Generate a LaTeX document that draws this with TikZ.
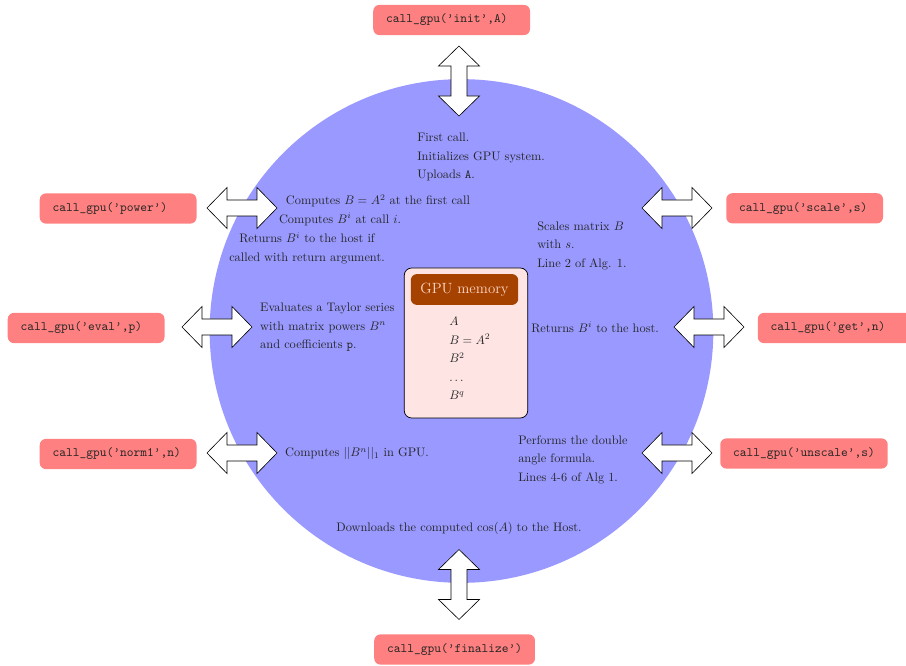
\documentclass[tikz,border=0pt]{standalone}
\definecolor{circblue}{RGB}{153,153,255}
\definecolor{callred}{RGB}{255,128,128}
\definecolor{memfill}{RGB}{255,228,228}
\definecolor{memtitle}{RGB}{165,66,0}
\definecolor{memtext}{RGB}{255,215,200}
\tikzset{
  callbox/.style={rounded corners=5pt, fill=callred, font=\fontsize{10.4}{12}\selectfont\ttfamily, inner xsep=10.5pt, minimum height=24.5pt, anchor=west, text=black!85},
  callboxw/.style={callbox, text width=106pt, align=left},
  txt/.style={inner sep=0pt, align=left, text=black!85},
  dblarrow/.pic={
    \draw[black, fill=white, line width=0.5pt]
      (-35,0) -- (-15,-20.5) -- (-15,-8) -- (15,-8) -- (15,-20.5) -- (35,0)
      -- (15,20.5) -- (15,8) -- (-15,8) -- (-15,20.5) -- cycle;
  },
}
\begin{document}
\begin{tikzpicture}[x=0.81pt,y=-0.81pt]
\useasboundingbox (0,0) rectangle (906,666);
\fill[circblue] (461.5,331) circle[radius=204pt];

% call boxes
\node[callboxw] (init) at (373,20) {call\_gpu(’init’,A)};
\node[callboxw] (power) at (39.5,208.5) {call\_gpu(’power’)};
\node[callboxw] (eval) at (7.5,328) {call\_gpu(’eval’,p)};
\node[callboxw] (norm) at (39.5,454) {call\_gpu(’norm1’,n)};
\node[callboxw] (scale) at (726,208.3) {call\_gpu(’scale’,s)};
\node[callboxw] (get) at (757.5,328) {call\_gpu(’get’,n)};
\node[callbox] (unscale) at (720,453.5) {call\_gpu(’unscale’,s)};
\node[callbox] (final) at (374,649.5) {call\_gpu(’finalize’)};

% double arrows
\pic[rotate=90] at (459,81) {dblarrow};
\pic[rotate=90] at (459,584.5) {dblarrow};
\pic at (242,208) {dblarrow};
\pic at (217,327) {dblarrow};
\pic at (242,453) {dblarrow};
\pic at (677,208) {dblarrow};
\pic at (709,327) {dblarrow};
\pic at (677,453) {dblarrow};

% texts
\node[txt, anchor=west] (tinit) at (417,157) {First call.\\[3pt]Initializes GPU system.\\[3pt]Uploads \texttt{A}.};
\node[txt] (tpow1) at (378,201) {Computes $B=A^2$ at the first call};
\node[txt] (tpow2) at (340,219.5) {Computes $B^i$ at call $i$.};
\node[txt, align=center] (tpow3) at (307,248) {Returns $B^i$ to the host if\\[3pt]called with return argument.};
\node[txt, anchor=west] (tscale) at (537,245.5) {Scales matrix $B$\\[3pt]with $s$.\\[3pt]Line 2 of Alg. 1.};
\node[txt, anchor=west] (teval) at (260,327.5) {Evaluates a Taylor series\\[3pt]with matrix powers $B^n$\\[3pt]and coefficients \texttt{p}.};
\node[txt, anchor=west] (tget) at (531,327.5) {Returns $B^i$ to the host.};
\node[txt, anchor=west] (tnorm) at (285,453.5) {Computes $||B^n||_1$ in GPU.};
\node[txt, anchor=west] (tunscale) at (518,459.5) {Performs the double\\[3pt]angle formula.\\[3pt]Lines 4-6 of Alg 1.};
\node[txt] (tfinal) at (459,528.5) {Downloads the computed $\cos(A)$ to the Host.};

% GPU memory
\node[draw=black, fill=memfill, rounded corners=6pt, minimum width=100pt, minimum height=121.5pt, line width=0.6pt] (mem) at (466,343) {};
\node[fill=memtitle, rounded corners=5pt, minimum width=87pt, minimum height=25pt, text=memtext, font=\large, inner sep=0pt] (memt) at (464.5,289.5) {GPU memory};
\node[txt, anchor=west] (memc) at (449,358.5) {$A$\\[3pt]$B=A^2$\\[3pt]$B^2$\\[3pt]$\dots$\\[3pt]$B^q$};
\end{tikzpicture}
\end{document}
